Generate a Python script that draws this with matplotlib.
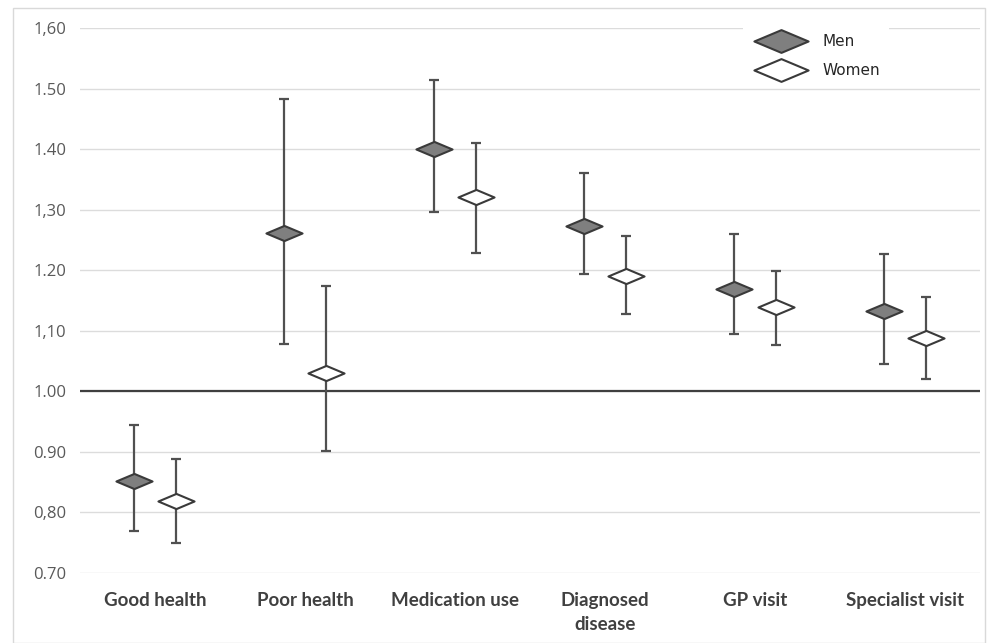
import matplotlib.pyplot as plt
import numpy as np
from matplotlib.path import Path
from matplotlib.patches import Rectangle

plt.rcParams['font.family'] = ['DejaVu Sans']

categories = ['Good health', 'Poor health', 'Medication use', 'Diagnosed\ndisease',
              'GP visit', 'Specialist visit']
men = [0.852, 1.262, 1.400, 1.273, 1.169, 1.133]
men_lo = [0.769, 1.078, 1.296, 1.193, 1.094, 1.045]
men_hi = [0.944, 1.483, 1.514, 1.361, 1.259, 1.226]
women = [0.819, 1.031, 1.321, 1.190, 1.140, 1.088]
women_lo = [0.750, 0.902, 1.228, 1.128, 1.077, 1.020]
women_hi = [0.888, 1.174, 1.410, 1.257, 1.199, 1.155]
yticks = [0.70, 0.80, 0.90, 1.00, 1.10, 1.20, 1.30, 1.40, 1.50, 1.60]
ytick_labels = ['0.70', '0,80', '0.90', '1.00', '1,10', '1.20', '1,30', '1.40', '1.50', '1,60']

# wide flat diamond like the original spreadsheet marker
diamond = Path([(-1, 0), (0, 0.42), (1, 0), (0, -0.42), (-1, 0)],
               [Path.MOVETO, Path.LINETO, Path.LINETO, Path.LINETO, Path.CLOSEPOLY])

fig = plt.figure(figsize=(9.95, 6.43), dpi=100)
fig.patches.append(Rectangle((13 / 995, 0), 972 / 995, 635 / 643, transform=fig.transFigure,
                             fill=False, edgecolor='#d9d9d9', lw=1))
ax = fig.add_axes([80 / 995, 70 / 643, 900 / 995, 545 / 643])

x = np.arange(len(categories))
off = 0.14
line_c = '#505050'

ax.errorbar(x - off, men,
            yerr=[np.array(men) - np.array(men_lo), np.array(men_hi) - np.array(men)],
            fmt='none', ecolor=line_c, elinewidth=1.6, capsize=3.5, capthick=1.6, zorder=3)
ax.errorbar(x + off, women,
            yerr=[np.array(women) - np.array(women_lo), np.array(women_hi) - np.array(women)],
            fmt='none', ecolor=line_c, elinewidth=1.6, capsize=3.5, capthick=1.6, zorder=3)
ax.plot(x - off, men, ls='none', marker=diamond, ms=26, mfc='#7f7f7f', mec='#3a3a3a',
        mew=1.5, zorder=4, label='Men')
ax.plot(x + off, women, ls='none', marker=diamond, ms=26, mfc='white', mec='#3a3a3a',
        mew=1.5, zorder=4, label='Women')

ax.axhline(1.0, color='#3f3f3f', lw=1.6, zorder=2)

ax.set_xlim(-0.5, len(categories) - 0.5)
ax.set_ylim(0.70, 1.60)
ax.set_yticks(yticks)
ax.set_yticklabels(ytick_labels, fontfamily='Open Sans')
ax.set_xticks(x)
ax.set_xticklabels(categories, fontfamily='Lato', fontweight='bold', fontsize=13.5,
                   color='#404040', linespacing=1.45)
ax.grid(axis='y', color='#dcdcdc', lw=1, zorder=0)
ax.set_axisbelow(True)
for s in ax.spines.values():
    s.set_visible(False)
ax.tick_params(axis='both', length=0)
ax.tick_params(axis='y', pad=10, labelsize=12, labelcolor='#595959')
ax.tick_params(axis='x', pad=14)

leg = ax.legend(loc='upper left', bbox_to_anchor=(0.728, 1.02), frameon=True, fancybox=False,
                facecolor='white', edgecolor='none', framealpha=1, fontsize=11,
                markerscale=1.5, handlelength=3.8, labelspacing=0.95, borderpad=0.6)
for t in leg.get_texts():
    t.set_color('#262626')

fig.savefig('out.png', dpi=100)
